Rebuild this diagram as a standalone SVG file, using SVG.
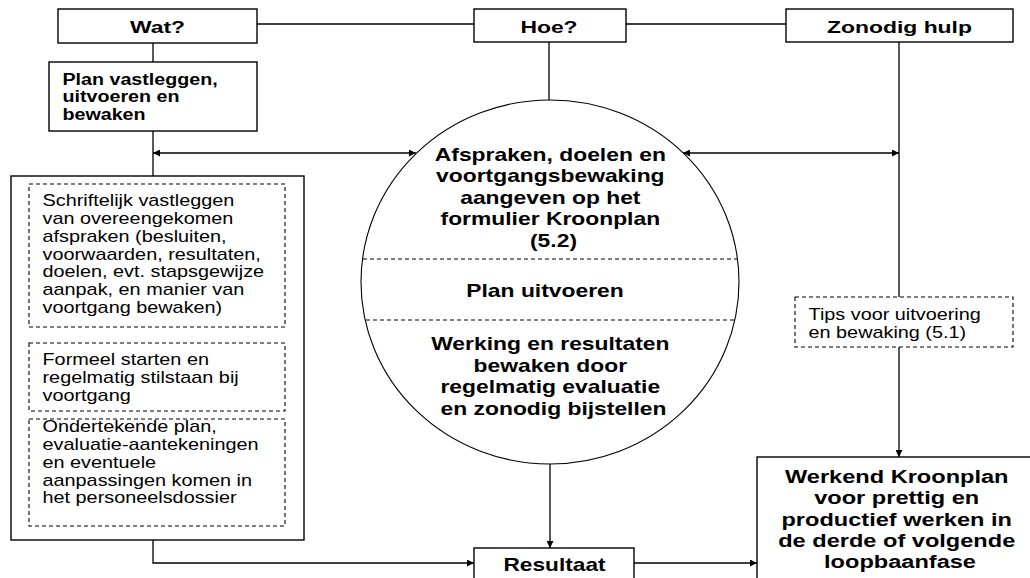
<svg xmlns="http://www.w3.org/2000/svg" width="1030" height="578" viewBox="0 0 1030 578">
  <style>
    .box { fill: #fff; stroke: #000; stroke-width: 1.4; }
    .dash { fill: none; stroke: #000; stroke-width: 1.1; stroke-dasharray: 4 3; }
    .line { fill: none; stroke: #000; stroke-width: 1.3; }
    .hd { font-family: "Liberation Sans", Arial, sans-serif; font-weight: bold; font-size: 16px; fill: #000; }
    .bd { font-family: "Liberation Sans", Arial, sans-serif; font-weight: bold; font-size: 18px; fill: #000; }
    .pl { font-family: "Liberation Sans", Arial, sans-serif; font-weight: bold; font-size: 16px; fill: #000; }
    .tx { font-family: "Liberation Sans", Arial, sans-serif; font-size: 16px; fill: #000; }
  </style>
  <defs>
    <marker id="arr" viewBox="0 0 10 10" refX="10" refY="5" markerWidth="8" markerHeight="7" markerUnits="userSpaceOnUse" orient="auto-start-reverse">
      <path d="M0,0 L10,5 L0,10 Z" fill="#000"/>
    </marker>
  </defs>

  <rect width="1030" height="578" fill="#fff"/>

  <!-- connectors -->
  <g id="connectors">
    <line class="line" x1="257" y1="24" x2="474" y2="24"/>
    <line class="line" x1="626" y1="24" x2="786" y2="24"/>
    <line class="line" x1="153" y1="43" x2="153" y2="62"/>
    <line class="line" x1="153" y1="131" x2="153" y2="176"/>
    <line class="line" x1="153" y1="153" x2="416" y2="153" marker-start="url(#arr)" marker-end="url(#arr)"/>
    <line class="line" x1="683" y1="153" x2="899" y2="153" marker-start="url(#arr)" marker-end="url(#arr)"/>
    <line class="line" x1="549" y1="42" x2="549" y2="100"/>
    <line class="line" x1="899" y1="42" x2="899" y2="297"/>
    <line class="line" x1="899" y1="347" x2="899" y2="457" marker-end="url(#arr)"/>
    <line class="line" x1="550" y1="464" x2="550" y2="548" marker-end="url(#arr)"/>
    <polyline class="line" points="153,540 153,563 474,563" marker-end="url(#arr)"/>
    <line class="line" x1="634" y1="563" x2="757" y2="563" marker-end="url(#arr)"/>
  </g>

  <!-- header row -->
  <g id="wat">
    <rect class="box" x="58" y="9" width="199" height="34"/>
    <text class="hd" text-anchor="middle" transform="translate(157.5 0) scale(1.43 1)"><tspan x="0" y="33">Wat?</tspan></text>
  </g>
  <g id="hoe">
    <rect class="box" x="474" y="9" width="152" height="33"/>
    <text class="hd" text-anchor="middle" transform="translate(549 0) scale(1.43 1)"><tspan x="0" y="33">Hoe?</tspan></text>
  </g>
  <g id="zonodig-hulp">
    <rect class="box" x="786" y="9" width="227" height="33"/>
    <text class="hd" text-anchor="middle" transform="translate(899.5 0) scale(1.43 1)"><tspan x="0" y="33">Zonodig hulp</tspan></text>
  </g>

  <!-- plan box -->
  <g id="plan">
    <rect class="box" x="49" y="62" width="208" height="69"/>
    <text class="pl" transform="translate(62.5 0) scale(1.23 1)">
      <tspan x="0" y="85">Plan vastleggen,</tspan>
      <tspan x="0" y="102.5">uitvoeren en</tspan>
      <tspan x="0" y="120">bewaken</tspan>
    </text>
  </g>

  <!-- left column with the three detail boxes -->
  <g id="details">
    <rect class="box" x="11" y="176" width="293" height="364"/>
    <rect class="dash" x="29" y="184" width="256" height="143"/>
    <text class="tx" transform="translate(42.5 0) scale(1.24 1)">
      <tspan x="0" y="206">Schriftelijk vastleggen</tspan>
      <tspan x="0" y="224">van overeengekomen</tspan>
      <tspan x="0" y="242">afspraken (besluiten,</tspan>
      <tspan x="0" y="260">voorwaarden, resultaten,</tspan>
      <tspan x="0" y="277.5">doelen, evt. stapsgewijze</tspan>
      <tspan x="0" y="295.5">aanpak, en manier van</tspan>
      <tspan x="0" y="313.5">voortgang bewaken)</tspan>
    </text>
    <rect class="dash" x="29" y="343" width="256" height="68"/>
    <text class="tx" transform="translate(42.5 0) scale(1.24 1)">
      <tspan x="0" y="365">Formeel starten en</tspan>
      <tspan x="0" y="383">regelmatig stilstaan bij</tspan>
      <tspan x="0" y="401">voortgang</tspan>
    </text>
    <rect class="dash" x="29" y="419" width="256" height="107"/>
    <text class="tx" transform="translate(42.5 0) scale(1.24 1)">
      <tspan x="0" y="432">Ondertekende plan,</tspan>
      <tspan x="0" y="450">evaluatie-aantekeningen</tspan>
      <tspan x="0" y="468">en eventuele</tspan>
      <tspan x="0" y="486">aanpassingen komen in</tspan>
      <tspan x="0" y="503.5">het personeelsdossier</tspan>
    </text>
  </g>

  <!-- central circle -->
  <g id="kroonplan-cirkel">
    <ellipse cx="550" cy="282" rx="189" ry="182" fill="#fff" stroke="#000" stroke-width="1.1"/>
    <line class="dash" x1="363" y1="259" x2="737" y2="259"/>
    <line class="dash" x1="366" y1="320" x2="734" y2="320"/>
    <text class="bd" text-anchor="middle" transform="translate(553.5 0) scale(1.27 1)">
      <tspan x="0" y="161">Afspraken, doelen en</tspan>
      <tspan x="0" y="182.5">voortgangsbewaking</tspan>
      <tspan x="0" y="204">aangeven op het</tspan>
      <tspan x="0" y="225.5">formulier Kroonplan</tspan>
      <tspan x="0" y="247">(5.2)</tspan>
    </text>
    <text class="bd" text-anchor="middle" transform="translate(545 0) scale(1.27 1)">
      <tspan x="0" y="297">Plan uitvoeren</tspan>
    </text>
    <text class="bd" text-anchor="middle" transform="translate(553.5 0) scale(1.27 1)">
      <tspan x="0" y="350.5">Werking en resultaten</tspan>
      <tspan x="0" y="372">bewaken door</tspan>
      <tspan x="0" y="393.5">regelmatig evaluatie</tspan>
      <tspan x="0" y="415">en zonodig bijstellen</tspan>
    </text>
  </g>

  <!-- tips -->
  <g id="tips">
    <rect class="dash" x="795" y="297" width="218" height="50" fill="#fff"/>
    <text class="tx" transform="translate(808.5 0) scale(1.24 1)">
      <tspan x="0" y="320">Tips voor uitvoering</tspan>
      <tspan x="0" y="338">en bewaking (5.1)</tspan>
    </text>
  </g>

  <!-- result -->
  <g id="resultaat">
    <rect class="box" x="474" y="548" width="160" height="40"/>
    <text class="bd" text-anchor="middle" transform="translate(554.5 0) scale(1.26 1)"><tspan x="0" y="571.5">Resultaat</tspan></text>
  </g>

  <!-- final outcome -->
  <g id="werkend-kroonplan">
    <rect class="box" x="757" y="457" width="290" height="140"/>
    <text class="bd" text-anchor="middle" transform="translate(900 0) scale(1.31 1)">
      <tspan x="0" y="483.5">Werkend Kroonplan</tspan>
      <tspan x="0" y="504.5">voor prettig en</tspan>
      <tspan x="0" y="526">productief werken in</tspan>
      <tspan x="0" y="547.5">de derde of volgende</tspan>
      <tspan x="0" y="568.5">loopbaanfase</tspan>
    </text>
  </g>
</svg>
